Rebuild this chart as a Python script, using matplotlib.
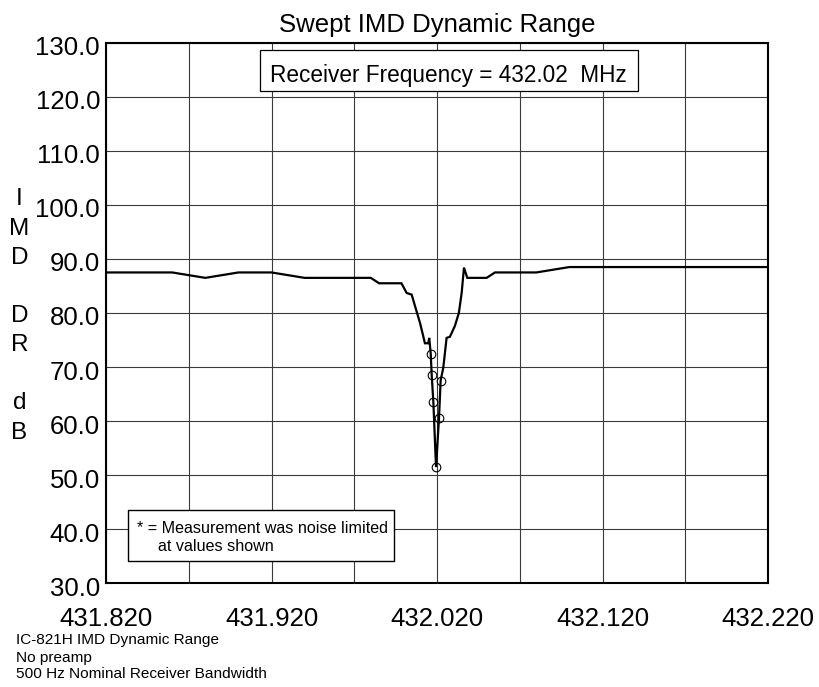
import matplotlib
matplotlib.use("Agg")
import matplotlib.pyplot as plt
from matplotlib.patches import Rectangle
from matplotlib.transforms import ScaledTranslation
import numpy as np

plt.rcParams['font.family'] = ['Liberation Sans', 'DejaVu Sans']

# Swept IMD dynamic range, IC-821H, receiver at 432.02 MHz
freq_mhz = [431.820, 431.860, 431.880, 431.900, 431.920, 431.940, 431.980, 431.985,
            431.9985, 432.0017, 432.0047, 432.0067, 432.0097, 432.0117, 432.0127,
            432.0147, 432.0153, 432.0162, 432.0168, 432.0178, 432.0194, 432.0212,
            432.0222, 432.0238, 432.0258, 432.0278, 432.0308, 432.0332, 432.0349,
            432.0363, 432.0383, 432.0500, 432.0550, 432.0800, 432.1000, 432.2200]
imd_dr_db = [87.5, 87.5, 86.5, 87.5, 87.5, 86.5, 86.5, 85.5,
             85.5, 83.7, 83.4, 81.3, 78.2, 75.7, 74.4,
             74.4, 75.4, 72.5, 68.5, 63.5, 51.5, 60.5,
             67.5, 69.9, 75.4, 75.6, 77.6, 80.0, 83.7,
             88.4, 86.5, 86.5, 87.5, 87.5, 88.5, 88.5]
# points where the measurement hit the noise floor
noise_limited = [False] * 17 + [True] * 6 + [False] * 13

x_ticks = [431.820, 431.920, 432.020, 432.120, 432.220]
x_grid = [431.870, 431.970, 432.070, 432.170]
y_ticks = [30, 40, 50, 60, 70, 80, 90, 100, 110, 120, 130]

W, H = 819, 687
fig = plt.figure(figsize=(W / 100, H / 100), dpi=100)
ax = fig.add_axes([106 / W, 1 - 583.3 / H, 662 / W, 540.6 / H])

ax.set_xlim(431.82, 432.22)
ax.set_ylim(30, 130)
ax.set_xticks(x_ticks)
ax.set_xticks(x_grid, minor=True)
ax.set_xticklabels([f"{v:.3f}" for v in x_ticks])
ax.set_yticks(y_ticks)
ax.set_yticklabels([f"{v:.1f}" for v in y_ticks])
ax.tick_params(axis='x', which='both', length=0, pad=16.8, labelsize=18.5)
ax.tick_params(axis='y', which='both', length=0, pad=4.3, labelsize=18.5)
for lab in ax.get_yticklabels():
    lab.set_transform(lab.get_transform() + ScaledTranslation(0, -3 / 100, fig.dpi_scale_trans))

ax.grid(True, which='both', color='#3a3a3a', linewidth=0.8)
ax.set_axisbelow(True)
for sp in ax.spines.values():
    sp.set_linewidth(1.5)
    sp.set_color('black')
    sp.set_zorder(5)

ax.set_title('Swept IMD Dynamic Range', fontsize=18.5, pad=7.9)

# receiver frequency box
ax.add_patch(Rectangle((0.2326, 0.9112), 0.8032 - 0.2326, 0.9865 - 0.9112,
                       transform=ax.transAxes, facecolor='white', edgecolor='black',
                       linewidth=0.9, zorder=3))
ax.text(0.5174, 0.9279, 'Receiver Frequency = 432.02  MHz', transform=ax.transAxes,
        ha='center', va='baseline', fontsize=16.3, zorder=4)

# noise-limited note box
ax.add_patch(Rectangle((0.0332, 0.0413), 0.435 - 0.0332, 0.1356 - 0.0413,
                       transform=ax.transAxes, facecolor='white', edgecolor='black',
                       linewidth=1.0, zorder=3))
ax.text(0.0468, 0.0936, '* = Measurement was noise limited', transform=ax.transAxes,
        ha='left', va='baseline', fontsize=11.6, zorder=4)
ax.text(0.0785, 0.0603, 'at values shown', transform=ax.transAxes,
        ha='left', va='baseline', fontsize=11.6, zorder=4)

# data
f = np.array(freq_mhz)
d = np.array(imd_dr_db)
m = np.array(noise_limited)
ax.plot(f, d, color='black', linewidth=1.6, zorder=4, solid_joinstyle='miter')
ax.plot(f[m], d[m], linestyle='none', marker='o', markersize=6.2,
        markerfacecolor='none', markeredgecolor='black', markeredgewidth=0.8, zorder=4)

# vertical axis label
fig.text(19.5 / W, 1 - 316 / H, 'I\nM\nD\n\nD\nR\n\nd\nB', ha='center', va='center',
         fontsize=17.5, linespacing=1.42)

# footnotes
notes = ['IC-821H IMD Dynamic Range', 'No preamp', '500 Hz Nominal Receiver Bandwidth']
for txt, yb in zip(notes, [644.3, 661.7, 678.3]):
    fig.text(16 / W, 1 - yb / H, txt, ha='left', va='baseline', fontsize=11.1)

fig.savefig('out.png', dpi=100, facecolor='white')
